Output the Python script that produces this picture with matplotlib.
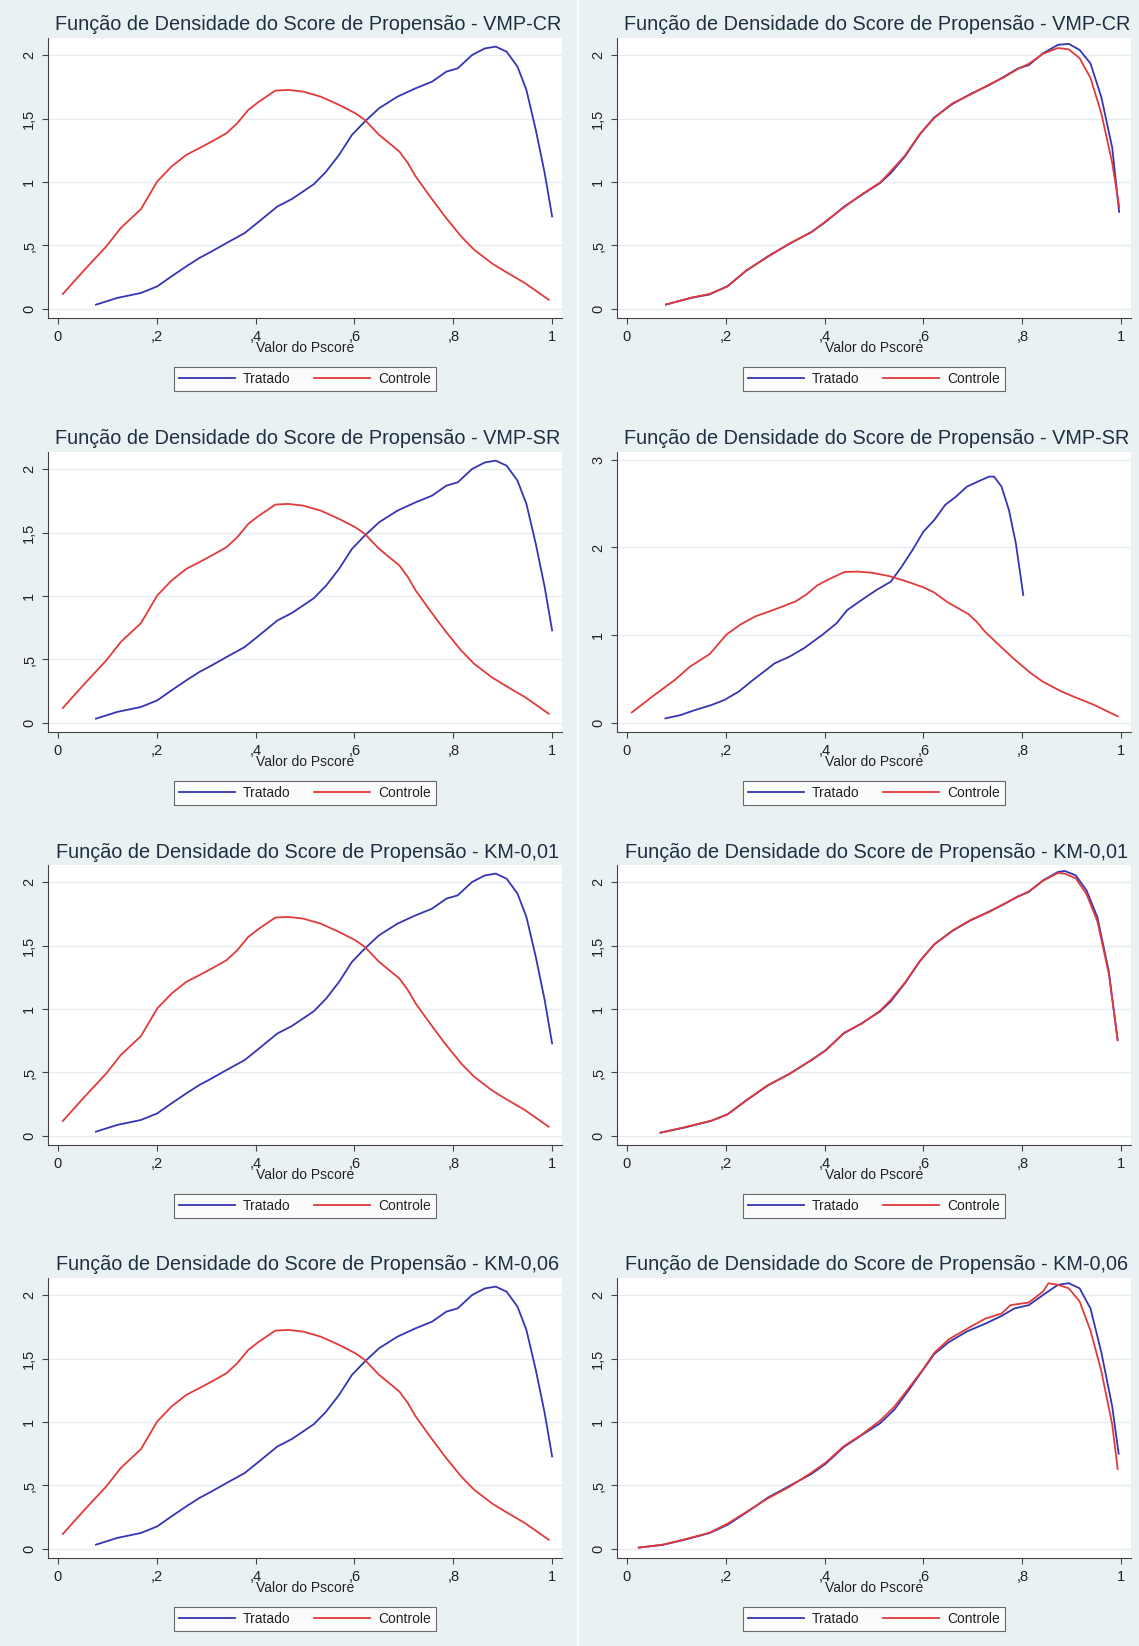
import matplotlib
matplotlib.use("Agg")
import matplotlib.pyplot as plt
from matplotlib.ticker import FuncFormatter
from matplotlib.lines import Line2D

plt.rcParams["font.family"] = ["Liberation Sans", "DejaVu Sans"]

# densidade do pscore antes do pareamento
trat_x = [0.077, 0.120, 0.168, 0.201, 0.230, 0.260, 0.286, 0.311, 0.341, 0.378, 0.407, 0.444,
          0.473, 0.496, 0.518, 0.543, 0.569, 0.595, 0.621, 0.650, 0.687, 0.724, 0.757, 0.786,
          0.809, 0.838, 0.864, 0.886, 0.908, 0.930, 0.948, 0.967, 0.985, 1.000]
trat_y = [0.034, 0.087, 0.126, 0.178, 0.257, 0.336, 0.401, 0.453, 0.519, 0.598, 0.689, 0.807,
          0.865, 0.925, 0.983, 1.083, 1.214, 1.371, 1.476, 1.581, 1.672, 1.738, 1.790, 1.869,
          1.895, 2.000, 2.052, 2.066, 2.026, 1.908, 1.725, 1.410, 1.069, 0.729]
ctrl_x = [0.010, 0.054, 0.098, 0.127, 0.168, 0.201, 0.230, 0.260, 0.286, 0.311, 0.341, 0.363,
          0.385, 0.407, 0.440, 0.466, 0.496, 0.532, 0.569, 0.602, 0.621, 0.650, 0.691, 0.708,
          0.724, 0.753, 0.783, 0.816, 0.842, 0.878, 0.905, 0.945, 0.993]
ctrl_y = [0.118, 0.309, 0.493, 0.637, 0.786, 1.004, 1.122, 1.214, 1.266, 1.318, 1.384, 1.463,
          1.567, 1.633, 1.720, 1.725, 1.712, 1.672, 1.607, 1.541, 1.489, 1.371, 1.240, 1.150,
          1.043, 0.886, 0.729, 0.571, 0.467, 0.360, 0.295, 0.204, 0.073]

# VMP-CR
cr_x = [0.079, 0.131, 0.167, 0.204, 0.241, 0.285, 0.329, 0.373, 0.402, 0.439, 0.475, 0.512,
        0.534, 0.563, 0.593, 0.622, 0.659, 0.696, 0.732, 0.762, 0.791, 0.813, 0.842, 0.872,
        0.894, 0.916, 0.938, 0.960, 0.982, 0.996]
cr_trat_y = [0.035, 0.088, 0.114, 0.181, 0.300, 0.414, 0.513, 0.606, 0.685, 0.805, 0.898, 0.991,
             1.070, 1.203, 1.376, 1.509, 1.615, 1.695, 1.761, 1.827, 1.894, 1.920, 2.013, 2.080,
             2.088, 2.040, 1.934, 1.668, 1.270, 0.765]
cr_ctrl_y = [0.035, 0.090, 0.118, 0.178, 0.302, 0.410, 0.516, 0.603, 0.690, 0.800, 0.902, 0.995,
             1.085, 1.210, 1.380, 1.505, 1.620, 1.690, 1.765, 1.822, 1.890, 1.930, 2.010, 2.055,
             2.045, 1.975, 1.820, 1.540, 1.150, 0.805]

# VMP-SR (controle igual ao da amostra total)
sr_trat_x = [0.078, 0.109, 0.138, 0.171, 0.197, 0.226, 0.255, 0.277, 0.299, 0.329, 0.358, 0.395,
             0.424, 0.446, 0.475, 0.505, 0.534, 0.556, 0.578, 0.600, 0.622, 0.644, 0.666, 0.688,
             0.710, 0.733, 0.743, 0.758, 0.773, 0.787, 0.802]
sr_trat_y = [0.049, 0.088, 0.145, 0.202, 0.259, 0.354, 0.487, 0.582, 0.678, 0.754, 0.849, 1.001,
             1.134, 1.287, 1.401, 1.515, 1.610, 1.781, 1.972, 2.181, 2.314, 2.486, 2.581, 2.695,
             2.752, 2.809, 2.809, 2.695, 2.429, 2.048, 1.458]

# KM-0,01
km01_x = [0.068, 0.116, 0.171, 0.204, 0.241, 0.285, 0.329, 0.373, 0.402, 0.439, 0.475, 0.512,
          0.534, 0.563, 0.593, 0.622, 0.659, 0.696, 0.732, 0.762, 0.791, 0.813, 0.842, 0.872,
          0.886, 0.908, 0.930, 0.952, 0.975, 0.993]
km01_trat_y = [0.026, 0.066, 0.119, 0.172, 0.278, 0.397, 0.490, 0.596, 0.675, 0.808, 0.887, 0.980,
               1.060, 1.205, 1.377, 1.510, 1.616, 1.699, 1.766, 1.823, 1.886, 1.921, 2.013, 2.079,
               2.087, 2.053, 1.934, 1.722, 1.298, 0.755]
km01_ctrl_y = [0.026, 0.068, 0.121, 0.170, 0.280, 0.400, 0.488, 0.598, 0.672, 0.812, 0.884, 0.985,
               1.072, 1.210, 1.380, 1.508, 1.618, 1.702, 1.762, 1.826, 1.884, 1.925, 2.010, 2.071,
               2.066, 2.030, 1.905, 1.690, 1.280, 0.755]

# KM-0,06
km06_trat_x = [0.024, 0.072, 0.116, 0.167, 0.204, 0.241, 0.285, 0.329, 0.373, 0.402, 0.439, 0.475,
               0.512, 0.541, 0.571, 0.600, 0.622, 0.651, 0.688, 0.725, 0.758, 0.784, 0.813, 0.842,
               0.872, 0.894, 0.916, 0.938, 0.960, 0.982, 0.995]
km06_trat_y = [0.011, 0.032, 0.072, 0.125, 0.191, 0.285, 0.404, 0.497, 0.590, 0.670, 0.803, 0.896,
               0.989, 1.096, 1.255, 1.415, 1.535, 1.628, 1.713, 1.774, 1.835, 1.894, 1.920, 2.000,
               2.080, 2.093, 2.053, 1.894, 1.548, 1.122, 0.750]
km06_ctrl_x = [0.024, 0.072, 0.116, 0.167, 0.204, 0.241, 0.285, 0.329, 0.373, 0.402, 0.439, 0.475,
               0.512, 0.541, 0.571, 0.600, 0.622, 0.651, 0.688, 0.725, 0.758, 0.776, 0.813, 0.842,
               0.853, 0.872, 0.894, 0.916, 0.938, 0.960, 0.982, 0.993]
km06_ctrl_y = [0.011, 0.034, 0.075, 0.128, 0.200, 0.290, 0.398, 0.490, 0.600, 0.680, 0.810, 0.900,
               1.010, 1.120, 1.270, 1.420, 1.545, 1.650, 1.734, 1.814, 1.854, 1.920, 1.941, 2.027,
               2.093, 2.080, 2.053, 1.950, 1.720, 1.400, 0.980, 0.630]

titulo = "Função de Densidade do Score de Propensão - "
paineis = [
    (0, 0, "VMP-CR", trat_x, trat_y, ctrl_x, ctrl_y, 2),
    (0, 1, "VMP-CR", cr_x, cr_trat_y, cr_x, cr_ctrl_y, 2),
    (1, 0, "VMP-SR", trat_x, trat_y, ctrl_x, ctrl_y, 2),
    (1, 1, "VMP-SR", sr_trat_x, sr_trat_y, ctrl_x, ctrl_y, 3),
    (2, 0, "KM-0,01", trat_x, trat_y, ctrl_x, ctrl_y, 2),
    (2, 1, "KM-0,01", km01_x, km01_trat_y, km01_x, km01_ctrl_y, 2),
    (3, 0, "KM-0,06", trat_x, trat_y, ctrl_x, ctrl_y, 2),
    (3, 1, "KM-0,06", km06_trat_x, km06_trat_y, km06_ctrl_x, km06_ctrl_y, 2),
]

W, H = 1139, 1646
BG = "#eaf1f3"
AZUL = "#3535b5"
VERM = "#e23a3a"
TXT = "#1f2f42"
EIXO = "#444444"

fig = plt.figure(figsize=(W / 100, H / 100), dpi=100, facecolor=BG)


def virgula(v, pos):
    s = ("%g" % round(v, 2)).replace(".", ",")
    if s.startswith("0,"):
        s = s[1:]
    return s


for row, col, nome, tx, ty, cx, cy, ytop in paineis:
    off_y = [0, 414, 827, 1240][row]
    left = [48, 617][col]
    width = 514
    top = 38 + off_y
    height = 280
    ax = fig.add_axes([left / W, 1 - (top + height) / H, width / W, height / H])
    ax.set_facecolor("white")

    ax.plot(tx, ty, color=AZUL, lw=1.3, label="Tratado", solid_joinstyle="round")
    ax.plot(cx, cy, color=VERM, lw=1.3, label="Controle", solid_joinstyle="round")

    ax.set_xlim(-0.02, 1.02)
    if ytop == 3:
        ax.set_ylim(-0.106, 3.09)
        ax.set_yticks([0, 1, 2, 3])
    else:
        ax.set_ylim(-0.071, 2.134)
        ax.set_yticks([0, 0.5, 1, 1.5, 2])
    ax.set_xticks([0, 0.2, 0.4, 0.6, 0.8, 1])
    ax.xaxis.set_major_formatter(FuncFormatter(virgula))
    ax.yaxis.set_major_formatter(FuncFormatter(virgula))
    ax.grid(axis="y", color="#e6edf1", lw=1.0)
    ax.set_axisbelow(True)
    for s in ["top", "right"]:
        ax.spines[s].set_visible(False)
    for s in ["left", "bottom"]:
        ax.spines[s].set_color(EIXO)
        ax.spines[s].set_linewidth(0.8)
    ax.tick_params(direction="out", length=4.5, width=0.8, color=EIXO,
                   labelsize=10.5, labelcolor="#222222", pad=4)
    for lab in ax.get_yticklabels():
        lab.set_rotation(90)
        lab.set_va("center")
    ax.set_xlabel("Valor do Pscore", fontsize=10, color="#222222", labelpad=-2)

    cx_pix = left + width / 2
    fig.text((cx_pix + 3) / W, 1 - (25 + off_y) / H, titulo + nome, fontsize=14.3,
             color=TXT, ha="center", va="center")

    handles = [Line2D([], [], color=AZUL, lw=1.3), Line2D([], [], color=VERM, lw=1.3)]
    leg = ax.legend(handles, ["Tratado", "Controle"], ncol=2, loc="center",
                    bbox_to_anchor=(cx_pix / W, 1 - (379 + off_y) / H),
                    bbox_transform=fig.transFigure, fontsize=10, frameon=True,
                    fancybox=False, edgecolor=EIXO, handlelength=4.0,
                    handletextpad=0.6, columnspacing=1.7, borderpad=0.35)
    leg.get_frame().set_linewidth(0.8)
    for t in leg.get_texts():
        t.set_color("#222222")

# linha branca entre as colunas
fig.add_artist(Line2D([578 / W, 578 / W], [0, 1], color="white", lw=1.2,
                      transform=fig.transFigure))

fig.savefig("out.png", dpi=100, facecolor=BG)
